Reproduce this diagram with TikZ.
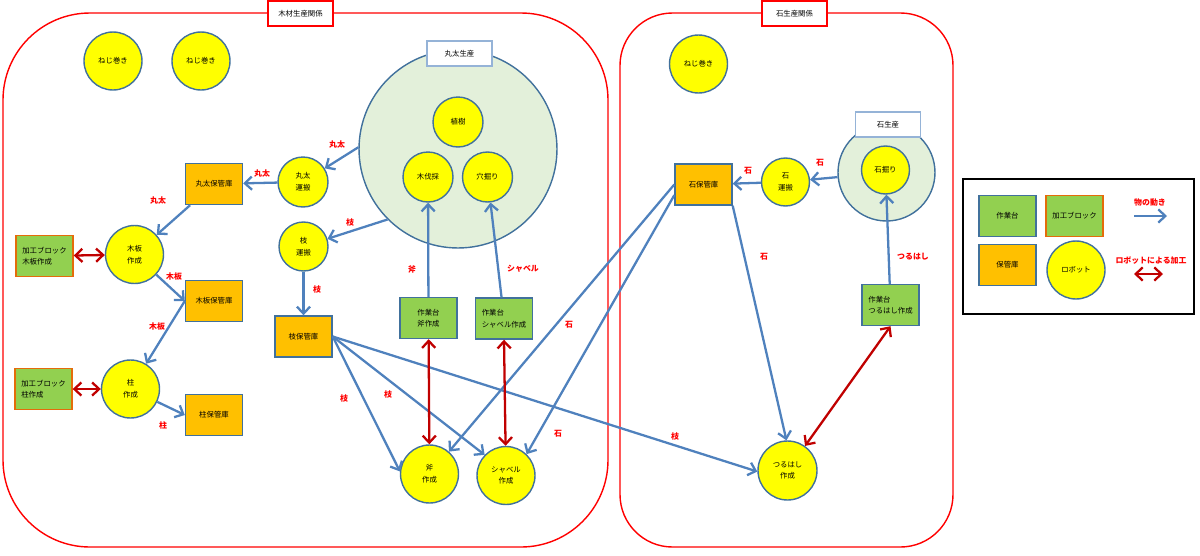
\documentclass[tikz,border=0pt]{standalone}
\usepackage{fontspec}
\setmainfont{Noto Sans CJK JP}
\usepackage{xcolor}
\usetikzlibrary{arrows.meta}
\definecolor{flowblue}{HTML}{4F81BD}
\definecolor{edgeblue}{HTML}{41719C}
\definecolor{procred}{HTML}{C00000}
\definecolor{labred}{HTML}{FF0000}
\definecolor{robotyel}{HTML}{FFFF00}
\definecolor{hokanor}{HTML}{FFC000}
\definecolor{daigreen}{HTML}{92D050}
\definecolor{kakoor}{HTML}{E46C0A}
\definecolor{prodgreen}{HTML}{E3F0DA}
\definecolor{titleblue}{HTML}{95B3D7}

\begin{document}
\begin{tikzpicture}[x=0.02cm,y=-0.02cm,
  txt/.style={font=\fontsize{4.2}{6.6}\selectfont},
  robot/.style={circle,draw=edgeblue,line width=0.8pt,fill=robotyel,minimum size=1.16cm,inner sep=0pt,txt,align=center},
  srobot/.style={robot,minimum size=0.98cm},
  daibox/.style={rectangle,draw=edgeblue,line width=0.8pt,fill=daigreen,minimum width=1.14cm,minimum height=0.82cm,inner sep=0pt,txt,align=left},
  kakobox/.style={daibox,draw=kakoor},
  hokanbox/.style={daibox,fill=hokanor,align=center},
  prod/.style={circle,draw=edgeblue,line width=0.8pt,fill=prodgreen,inner sep=0pt},
  title/.style={rectangle,draw=labred,line width=0.7pt,fill=white,minimum width=1.3cm,minimum height=0.5cm,inner sep=0pt,txt},
  subtitle/.style={title,draw=titleblue},
  frame/.style={draw=labred,line width=0.8pt},
  lbl/.style={text=labred,font=\fontsize{4.5}{5}\selectfont\bfseries,inner sep=0pt},
  flow/.style={-{Straight Barb[length=4pt,width=7.5pt]},line width=1.3pt,draw=flowblue},
  proc/.style={{Straight Barb[length=4pt,width=7.5pt]}-{Straight Barb[length=4pt,width=7.5pt]},line width=1.3pt,draw=procred}]

  \useasboundingbox (0,0) rectangle (1200,555);

  %% 木材生産関係
  \draw[frame,rounded corners=1.74cm] (3,13) rectangle (608,547);
  \node[title] (mtitle) at (300.5,13.5) {木材生産関係};
  \node[robot] (neji1) at (113,61) {ねじ巻き};
  \node[robot] (neji2) at (201,61) {ねじ巻き};
  % 丸太生産
  \node[prod,minimum size=3.96cm] (maru) at (458,149) {};
  \node[subtitle] (marutitle) at (459.5,53.5) {丸太生産};
  \node[srobot,minimum size=1cm] (shokuju) at (458,122) {植樹};
  \node[srobot,minimum size=1cm] (kibassai) at (428,177) {木伐採};
  \node[srobot,minimum size=1cm] (anahori) at (487.5,177) {穴掘り};
  % 運搬・保管
  \node[srobot,minimum size=1cm] (mtrans) at (303,182) {丸太\\運搬};
  \node[hokanbox] (mbox) at (214,184) {丸太保管庫};
  \node[robot] (itasaku) at (134.5,254.5) {木板\\作成};
  \node[kakobox] (kako1) at (44.5,256) {加工ブロック\\木板作成};
  \node[hokanbox] (itabox) at (214,301) {木板保管庫};
  \node[robot] (hashira) at (130.5,389) {柱\\作成};
  \node[kakobox] (kako2) at (43.5,389) {加工ブロック\\柱作成};
  \node[hokanbox] (hbox) at (214,415) {柱保管庫};
  \node[srobot] (etrans) at (303.5,246.5) {枝\\運搬};
  \node[hokanbox] (ebox) at (303.5,336.5) {枝保管庫};
  % 道具作成
  \node[daibox] (onodai) at (428.5,318) {作業台\\斧作成};
  \node[daibox] (shadai) at (504,318.5) {作業台\\シャベル作成};
  \node[robot] (ono) at (429.5,474) {斧\\作成};
  \node[robot] (shaberu) at (506,475.5) {シャベル\\作成};

  %% 石生産関係
  \draw[frame,rounded corners=1.05cm] (620,13) rectangle (953,547);
  \node[title] (stitle) at (794.5,13.5) {石生産関係};
  \node[robot] (neji3) at (698.5,64) {ねじ巻き};
  \node[prod,minimum size=1.94cm] (ishiprod) at (886.5,172.5) {};
  \node[subtitle] (ishititle) at (888,124.5) {石生産};
  \node[srobot,minimum size=0.96cm] (ishihori) at (885.5,170) {石掘り};
  \node[srobot,minimum size=0.96cm] (strans) at (785.5,182) {石\\運搬};
  \node[hokanbox] (sbox) at (703.5,184.5) {石保管庫};
  \node[daibox] (tsurudai) at (890.5,305) {作業台\\つるはし作成};
  \node[robot,minimum size=1.18cm] (tsuru) at (787.5,470.5) {つるはし\\作成};

  %% 物の動き
  \draw[flow] (maru.179) -- (mtrans);
  \draw[flow] (mtrans) -- (mbox);
  \draw[flow] (mbox) -- (itasaku);
  \draw[flow] (itasaku) -- (itabox.west);
  \draw[flow] (itabox.west) -- (hashira);
  \draw[flow] (hashira) -- (hbox.west);
  \draw[flow] (maru.225) -- (etrans);
  \draw[flow] (etrans) -- (ebox);
  \draw[flow] (onodai) -- (kibassai);
  \draw[flow] (shadai) -- (anahori);
  \draw[flow] (ebox.east) -- (ono.175);
  \draw[flow] (ebox.east) -- (shaberu.136);
  \draw[flow] (ebox.east) -- (tsuru.182);
  \draw[flow] (sbox.west) -- (ono.49);
  \draw[flow] (sbox.200) -- (shaberu.46);
  \draw[flow] (sbox.south east) -- (tsuru.92);
  \draw[flow] (ishiprod) -- (strans);
  \draw[flow] (strans) -- (sbox);
  \draw[flow] (tsurudai) -- (ishihori);

  %% ロボットによる加工
  \draw[proc] (kako1) -- (itasaku);
  \draw[proc] (kako2) -- (hashira);
  \draw[proc] (onodai) -- (ono);
  \draw[proc] (shadai.south) -- (shaberu);
  \draw[proc] (tsurudai.south) -- (tsuru);

  % labels
  \node[lbl] (lm1) at (337,144) {丸太};
  \node[lbl] (lm2) at (262,173) {丸太};
  \node[lbl] (lm3) at (158,200) {丸太};
  \node[lbl] (li1) at (174,277) {木板};
  \node[lbl] (li2) at (157,327) {木板};
  \node[lbl] (lh1) at (163,425) {柱};
  \node[lbl] (le1) at (350,223) {枝};
  \node[lbl] (le2) at (317,290) {枝};
  \node[lbl] (le3) at (344,398) {枝};
  \node[lbl] (le4) at (388,394) {枝};
  \node[lbl] (le5) at (675,436) {枝};
  \node[lbl] (lono) at (412,269) {斧};
  \node[lbl] (lsha) at (523,269) {シャベル};
  \node[lbl] (ls1) at (569,325) {石};
  \node[lbl] (ls2) at (558,434) {石};
  \node[lbl] (ls3) at (764,257) {石};
  \node[lbl] (ls4) at (820,163) {石};
  \node[lbl] (ls5) at (748,171) {石};
  \node[lbl] (ltsu) at (913,257) {つるはし};

  %% 凡例
  \draw[black,line width=1pt] (963,179) rectangle (1194,314);
  \node[daibox,align=center] (gdai) at (1007.5,216) {作業台};
  \node[kakobox,align=center] (gkako) at (1074.5,216) {加工ブロック};
  \node[hokanbox] (ghokan) at (1007.5,265) {保管庫};
  \node[robot] (grobot) at (1076,270) {ロボット};
  \node[lbl] (gflow) at (1150,203) {物の動き};
  \coordinate (ga1) at (1134,216);
  \coordinate (ga2) at (1167,216);
  \draw[flow] (ga1) -- (ga2);
  \node[lbl] (gproc) at (1151,261) {ロボットによる加工};
  \coordinate (gb1) at (1134,274);
  \coordinate (gb2) at (1163,274);
  \draw[proc] (gb1) -- (gb2);

\end{tikzpicture}
\end{document}
